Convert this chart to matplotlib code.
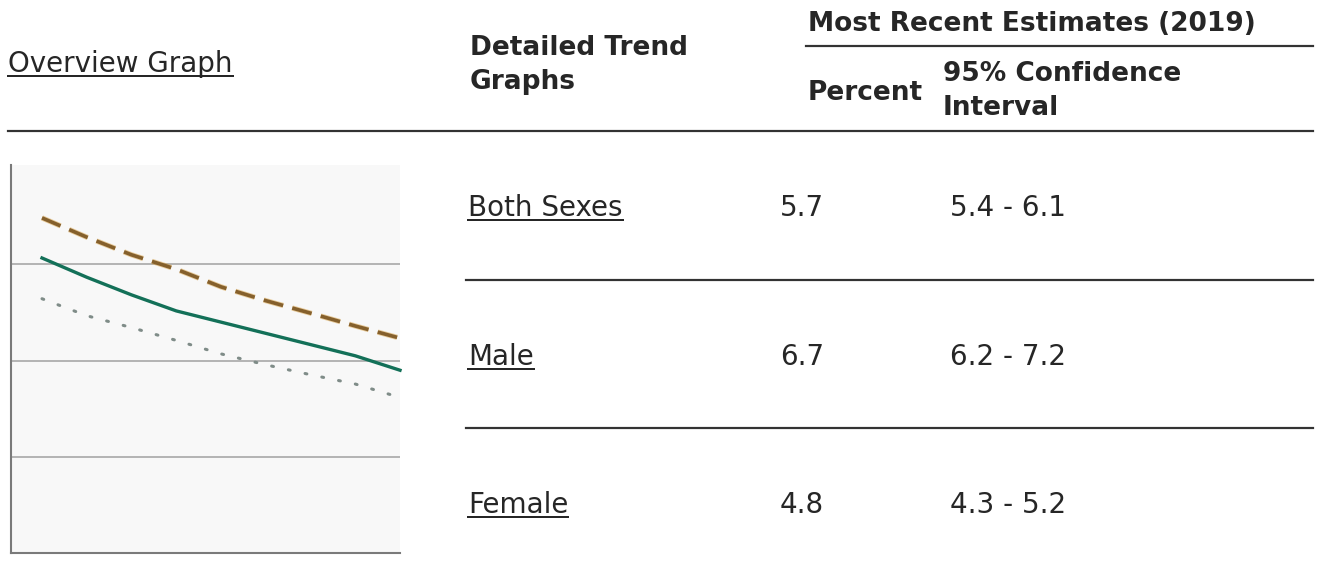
import matplotlib
matplotlib.use("Agg")
import matplotlib.pyplot as plt
from matplotlib.lines import Line2D

# ---------------- data ----------------
years = [2011, 2012, 2013, 2014, 2015, 2016, 2017, 2018, 2019]
both_sexes = [9.2, 8.6, 8.05, 7.55, 7.2, 6.85, 6.5, 6.15, 5.7]
male = [10.45, 9.85, 9.3, 8.85, 8.3, 7.87, 7.48, 7.08, 6.7]
female = [7.93, 7.4, 7.03, 6.63, 6.21, 5.87, 5.56, 5.27, 4.85]

groups = ["Both Sexes", "Male", "Female"]
percent = ["5.7", "6.7", "4.8"]
ci = ["5.4 - 6.1", "6.2 - 7.2", "4.3 - 5.2"]

W, H = 1319, 573
fig = plt.figure(figsize=(W / 100, H / 100), dpi=100)
fig.patch.set_facecolor("white")
plt.rcParams["font.family"] = ["DejaVu Sans"]

TXT = "#262626"
BOLD_SIZE = 19
REG_SIZE = 20


def fx(x):
    return x / W


def fy(y):
    return 1 - y / H


def hline(x0, x1, y, lw=2.0, color="#333333"):
    fig.add_artist(Line2D([fx(x0), fx(x1)], [fy(y), fy(y)],
                          transform=fig.transFigure, lw=lw * 0.72, color=color))


def text(x, y, s, size, bold=False, underline=False):
    t = fig.text(fx(x), fy(y), s, fontsize=size, color=TXT,
                 fontweight="bold" if bold else "normal",
                 ha="left", va="baseline")
    if underline:
        fig.canvas.draw()
        bb = t.get_window_extent()
        hline(bb.x0, bb.x1, y + 3.5, lw=2.0, color=TXT)
    return t


# ---------------- mini chart ----------------
ax_l, ax_r, ax_t, ax_b = 11, 400, 165, 553
ax = fig.add_axes([fx(ax_l), fy(ax_b), (ax_r - ax_l) / W, (ax_b - ax_t) / H])
ax.set_facecolor("#f8f8f8")
ax.set_ylim(0, 12.1)
ax.set_xlim(2011 - 31 / 44.75, 2019)
for g in [3, 6, 9]:
    ax.axhline(g, color="#b4b4b4", lw=1.4, zorder=1)

# dashed line: golden halo under a brown core, same absolute dash pattern
DASH_PT, GAP_PT = 14.5, 6.8
lw_halo, lw_core = 3.8, 2.6
ax.plot(years, male, color="#d9a54e", lw=lw_halo,
        linestyle=(0, (DASH_PT / lw_halo, GAP_PT / lw_halo)),
        zorder=3, clip_on=False, alpha=0.55)
ax.plot(years, male, color="#85602c", lw=lw_core,
        linestyle=(0, (DASH_PT / lw_core, GAP_PT / lw_core)),
        zorder=3, clip_on=False)
ax.plot(years, both_sexes, color="#137058", lw=2.4, zorder=4, clip_on=False)
ax.plot(years, female, color="#7f8c88", lw=2.2, linestyle=(0, (0.6, 5.0)),
        dash_capstyle="round", zorder=3, clip_on=False)
for s in ["top", "right"]:
    ax.spines[s].set_visible(False)
for s in ["left", "bottom"]:
    ax.spines[s].set_color("#7a7a7a")
    ax.spines[s].set_linewidth(1.5)
ax.set_xticks([])
ax.set_yticks([])

# ---------------- table ----------------
text(8, 72, "Overview Graph", REG_SIZE, underline=True)
text(470, 55, "Detailed Trend", BOLD_SIZE, bold=True)
text(470, 89, "Graphs", BOLD_SIZE, bold=True)
text(808, 31, "Most Recent Estimates (2019)", BOLD_SIZE, bold=True)
hline(806, 1313, 46, lw=2.2)
text(808, 100, "Percent", BOLD_SIZE, bold=True)
text(943, 81, "95% Confidence", BOLD_SIZE, bold=True)
text(943, 115, "Interval", BOLD_SIZE, bold=True)
hline(8, 1313, 131, lw=2.2)

row_base = [216, 365, 513]
for i, g in enumerate(groups):
    text(468, row_base[i], g, REG_SIZE, underline=True)
    text(780, row_base[i], percent[i], REG_SIZE)
    text(950, row_base[i], ci[i], REG_SIZE)

hline(466, 1313, 280, lw=2.2)
hline(466, 1313, 428, lw=2.2)

fig.savefig("out.png", dpi=100, facecolor="white")
